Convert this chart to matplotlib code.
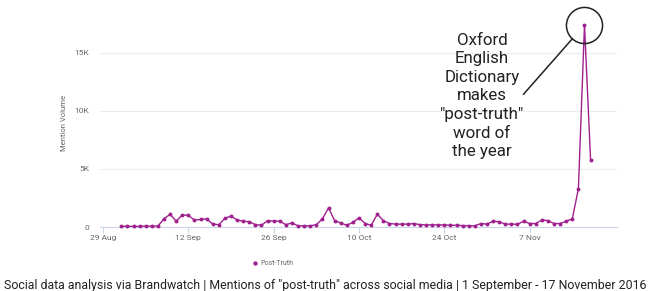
import matplotlib.pyplot as plt
import matplotlib.dates as mdates
import pandas as pd

plt.rcParams["font.family"] = ["Roboto", "DejaVu Sans"]

# daily mention counts, 1 Sep - 17 Nov 2016
sep_vals = [60, 60, 50, 50, 80, 80, 80, 700, 1100, 500, 1050, 1000, 600, 650, 700,
            250, 200, 750, 950, 600, 500, 450, 200, 150, 550, 500, 500, 200, 350, 100]
oct_vals = [100, 100, 200, 700, 1650, 550, 350, 150, 400, 800, 300, 150, 1100, 550,
            300, 250, 250, 250, 300, 200, 180, 180, 180, 180, 150, 150, 120, 120, 100,
            300, 250]
nov_vals = [500, 450, 250, 250, 230, 500, 300, 300, 600, 550, 300, 300, 500, 700,
            3300, 17400, 5750]
values = sep_vals + oct_vals + nov_vals
dates = pd.date_range("2016-09-01", periods=len(values), freq="D")

ytick_vals = [0, 5000, 10000, 15000]
ytick_labels = ["0", "5K", "10K", "15K"]
xtick_dates = pd.date_range("2016-08-29", periods=6, freq="14D")

series_name = "Post-Truth"
annotation = 'Oxford\nEnglish\nDictionary\nmakes\n"post-truth"\nword of\nthe year'
caption = ('Social data analysis via Brandwatch | Mentions of "post-truth" across '
           'social media | 1 September - 17 November 2016')

purple = "#a0208e"

fig = plt.figure(figsize=(6.49, 2.91), dpi=100)
ax = fig.add_axes([100 / 649, 64 / 291, 517 / 649, 209 / 291])

ax.plot(dates, values, color=purple, lw=1.0, marker="o", ms=1.8, clip_on=False,
        zorder=3, label=series_name)

ax.set_ylim(0, 18000)
ax.set_xlim(pd.Timestamp("2016-08-28 12:00"), pd.Timestamp("2016-11-21 08:00"))
ax.set_yticks(ytick_vals)
ax.set_yticklabels(ytick_labels)
ax.set_xticks(xtick_dates)
ax.xaxis.set_major_formatter(mdates.DateFormatter("%-d %b"))
ax.grid(axis="y", color="#ececec", lw=0.8)
ax.set_axisbelow(True)
for s in ["top", "right", "left"]:
    ax.spines[s].set_visible(False)
ax.spines["bottom"].set_color("#ccd6eb")
ax.spines["bottom"].set_linewidth(0.8)
ax.tick_params(axis="y", length=0, labelsize=6, labelcolor="#666666", pad=8)
ax.tick_params(axis="x", length=4, color="#ccd6eb", labelsize=6,
               labelcolor="#666666", pad=2)
ax.set_ylabel("Mention Volume", fontsize=5.5, color="#666666", labelpad=5)

# circle round the peak and pointer line
peak_i = values.index(max(values))
ax.plot(dates[peak_i], values[peak_i], marker="o", ms=26, mfc="none",
        mec="#222222", mew=1.1, clip_on=False, zorder=4)
ax.annotate("", xy=(dates[peak_i], values[peak_i]), xytext=(-44, -50),
            textcoords="offset points",
            arrowprops=dict(arrowstyle="-", color="#222222", lw=1.1,
                            shrinkA=0, shrinkB=13))
fig.text(482 / 649, 1 - 96 / 291, annotation, ha="center", va="center",
         fontsize=12.2, color="#222222", linespacing=1.3)

ax.legend(loc="upper center", bbox_to_anchor=(0.335, -0.13), frameon=False,
          fontsize=5, handlelength=0.6, handletextpad=0.4, markerscale=1.2,
          labelcolor="#666666").legend_handles[0].set_linestyle("none")

fig.text(4 / 649, 1 - 285 / 291, caption, ha="left", va="center",
         fontsize=8.95, color="#222222")

fig.savefig("out.png", dpi=100)
